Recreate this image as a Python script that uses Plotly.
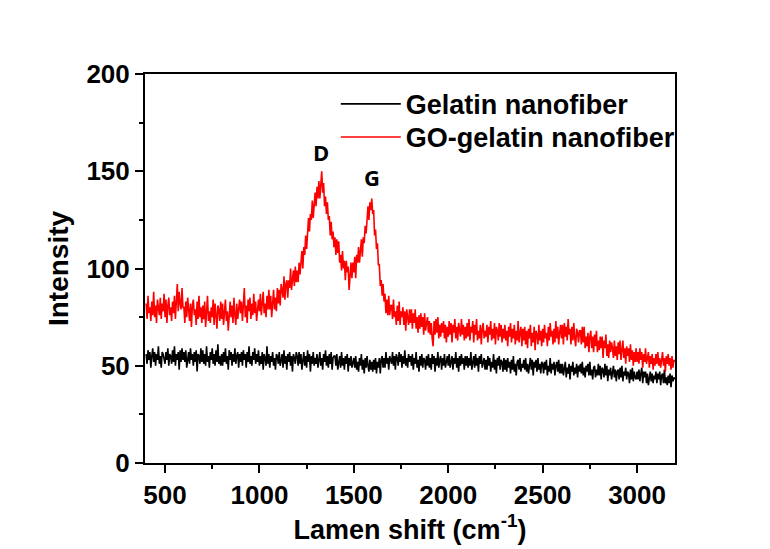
import plotly.graph_objects as go

# Raman shift grid (cm^-1), one sample every 5 cm^-1
wavenumber = list(range(400, 3201, 5))

# GO-gelatin nanofiber (red) intensities (20 per 100 cm^-1)
go_gelatin = [
    82, 74, 86, 77, 80, 73, 83, 76, 88, 75, 81, 72, 84, 79, 76, 85, 74, 82, 78, 87,
    75, 84, 72, 81, 85, 76, 80, 73, 83, 77, 86, 74, 85, 92, 78, 88, 82, 79, 90, 80,
    80, 72, 83, 75, 85, 77, 73, 82, 70, 81, 84, 76, 79, 71, 83, 74, 86, 75, 80, 72,
    81, 74, 83, 70, 79, 86, 73, 78, 72, 80, 75, 84, 71, 82, 76, 69, 81, 79, 73, 83,
    74, 82, 71, 79, 84, 73, 78, 68, 80, 83, 75, 81, 72, 85, 76, 71, 82, 74, 79, 84,
    77, 83, 73, 82, 90, 75, 81, 72, 84, 78, 85, 74, 82, 76, 87, 77, 83, 73, 80, 84,
    78, 87, 76, 83, 88, 77, 82, 75, 86, 79, 89, 79, 86, 75, 85, 89, 79, 85, 78, 90,
    82, 89, 81, 92, 89, 85, 96, 84, 92, 94, 85, 94, 90, 100, 89, 94, 99, 91, 101, 93,
    99, 93, 103, 97, 102, 109, 100, 111, 107, 117, 110, 121, 126, 119, 128, 125, 135, 126, 135, 139,
    132, 142, 136, 145, 136, 145, 150, 139, 144, 132, 137, 128, 134, 125, 127, 117, 124, 115, 119, 111,
    116, 107, 115, 108, 114, 103, 107, 99, 109, 100, 104, 94, 104, 98, 101, 89, 99, 103, 95, 103,
    98, 106, 95, 107, 103, 111, 103, 110, 115, 106, 116, 113, 122, 118, 126, 132, 125, 134, 130, 136,
    128, 130, 117, 120, 110, 113, 102, 102, 91, 94, 86, 92, 83, 87, 77, 84, 76, 86, 76, 81,
    81, 74, 84, 75, 78, 71, 81, 73, 83, 71, 78, 75, 80, 71, 78, 68, 79, 76, 71, 79,
    72, 79, 69, 77, 72, 79, 69, 75, 67, 76, 69, 77, 70, 75, 66, 77, 68, 72, 75, 67,
    73, 66, 72, 64, 60, 73, 66, 74, 67, 75, 64, 71, 65, 72, 67, 73, 64, 71, 62, 70,
    65, 73, 66, 72, 62, 71, 67, 74, 64, 70, 63, 72, 69, 65, 74, 66, 71, 63, 70, 64,
    72, 65, 74, 63, 70, 67, 73, 62, 71, 66, 74, 63, 68, 64, 71, 61, 69, 72, 64, 68,
    65, 71, 62, 70, 66, 73, 63, 69, 64, 72, 61, 70, 68, 63, 72, 65, 71, 62, 69, 64,
    71, 63, 68, 60, 70, 65, 72, 62, 69, 64, 71, 61, 68, 63, 73, 62, 67, 70, 60, 69,
    63, 70, 61, 68, 59, 69, 64, 71, 60, 67, 62, 70, 58, 68, 66, 61, 71, 63, 68, 60,
    69, 62, 71, 64, 67, 60, 70, 63, 72, 65, 68, 61, 69, 62, 73, 64, 70, 61, 67, 71,
    64, 71, 61, 72, 65, 70, 63, 74, 66, 69, 61, 70, 63, 72, 64, 60, 69, 67, 62, 68,
    68, 61, 70, 62, 70, 59, 65, 60, 67, 57, 65, 68, 59, 65, 57, 66, 60, 68, 57, 63,
    58, 65, 59, 65, 54, 63, 59, 66, 55, 61, 54, 63, 57, 62, 59, 54, 63, 55, 60, 53,
    62, 56, 63, 53, 58, 63, 54, 59, 51, 60, 55, 59, 52, 61, 53, 58, 50, 57, 52, 59,
    52, 57, 51, 59, 53, 57, 49, 56, 52, 59, 51, 54, 57, 49, 55, 51, 56, 48, 54, 50,
    56, 51, 57, 50, 54, 49, 55, 57, 50, 54, 47, 55, 51, 56, 50, 54, 48, 55, 49, 53,
    52,
]

# Gelatin nanofiber (black) intensities (20 per 100 cm^-1)
gelatin = [
    56, 51, 58, 53, 57, 49, 55, 59, 52, 57, 50, 56, 53, 60, 51, 55, 49, 57, 56, 52,
    51, 57, 53, 59, 50, 56, 55, 51, 58, 52, 60, 50, 56, 53, 57, 48, 58, 52, 59, 53,
    57, 52, 58, 49, 55, 57, 51, 59, 53, 56, 50, 57, 52, 58, 47, 56, 55, 51, 59, 52,
    58, 51, 56, 50, 60, 52, 55, 49, 57, 53, 59, 51, 56, 50, 58, 52, 61, 51, 55, 50,
    56, 50, 57, 52, 59, 51, 55, 48, 58, 53, 57, 50, 56, 52, 59, 51, 55, 57, 49, 56,
    52, 57, 50, 58, 53, 56, 49, 57, 52, 60, 51, 55, 50, 57, 53, 59, 51, 56, 52, 58,
    50, 55, 51, 57, 48, 56, 54, 50, 60, 51, 56, 49, 55, 52, 57, 50, 54, 48, 56, 55,
    51, 57, 50, 54, 56, 49, 58, 51, 55, 48, 56, 52, 57, 50, 55, 47, 56, 54, 51, 57,
    55, 50, 57, 51, 56, 48, 54, 57, 50, 55, 49, 58, 52, 56, 47, 55, 51, 57, 50, 54,
    51, 56, 49, 55, 57, 50, 54, 48, 56, 52, 58, 50, 55, 49, 56, 51, 57, 48, 54, 55,
    55, 50, 56, 48, 53, 55, 49, 57, 50, 54, 48, 55, 51, 56, 47, 54, 50, 55, 49, 53,
    54, 49, 55, 48, 52, 47, 54, 50, 56, 48, 53, 46, 54, 49, 55, 50, 47, 53, 48, 52,
    47, 53, 48, 54, 46, 52, 49, 54, 46, 53, 55, 49, 54, 49, 57, 51, 54, 48, 55, 53,
    51, 57, 50, 55, 48, 56, 54, 50, 57, 52, 56, 49, 55, 51, 58, 50, 54, 49, 56, 52,
    55, 50, 56, 48, 54, 51, 57, 49, 53, 47, 55, 50, 56, 49, 54, 53, 48, 55, 50, 56,
    49, 54, 48, 56, 51, 55, 47, 54, 50, 57, 49, 53, 55, 48, 54, 50, 56, 49, 53, 55,
    50, 56, 49, 53, 55, 48, 54, 51, 57, 49, 54, 47, 55, 50, 56, 51, 54, 48, 55, 50,
    55, 49, 54, 50, 57, 48, 53, 55, 49, 56, 50, 54, 47, 55, 51, 56, 49, 53, 54, 48,
    53, 48, 55, 50, 54, 47, 52, 49, 56, 48, 53, 46, 54, 50, 55, 48, 53, 52, 47, 54,
    48, 53, 47, 54, 49, 52, 46, 53, 48, 55, 47, 51, 45, 52, 53, 48, 54, 47, 51, 49,
    53, 48, 54, 47, 51, 46, 52, 54, 48, 53, 45, 52, 49, 53, 47, 54, 48, 51, 46, 52,
    51, 46, 52, 48, 53, 45, 50, 47, 54, 46, 51, 48, 52, 45, 50, 52, 47, 53, 46, 51,
    46, 51, 45, 50, 52, 44, 49, 46, 51, 43, 50, 47, 52, 45, 49, 46, 51, 44, 50, 47,
    51, 46, 52, 45, 49, 44, 50, 47, 51, 45, 52, 45, 48, 43, 49, 50, 44, 48, 45, 51,
    45, 50, 43, 49, 48, 44, 51, 45, 50, 42, 48, 45, 49, 43, 47, 50, 44, 48, 42, 47,
    48, 43, 49, 44, 50, 42, 47, 45, 49, 43, 47, 46, 41, 48, 43, 49, 42, 47, 44, 43,
    47, 43, 48, 42, 46, 49, 41, 47, 44, 47, 41, 46, 40, 45, 47, 42, 46, 41, 45, 43,
    47, 41, 46, 43, 47, 40, 45, 46, 41, 48, 41, 44, 40, 45, 41, 46, 39, 45, 42, 44,
    43,
]

series_names = ["Gelatin nanofiber", "GO-gelatin nanofiber"]
x_ticks = [500, 1000, 1500, 2000, 2500, 3000]
y_ticks = [0, 50, 100, 150, 200]
peak_labels = ["D", "G"]
peak_positions = [1327, 1597]
peak_label_heights = [160, 147]

FONT = "Arial, 'Liberation Sans', sans-serif"

fig = go.Figure()
fig.add_trace(go.Scatter(x=wavenumber, y=gelatin, mode="lines", name=series_names[0],
                         line=dict(color="black", width=1.6), legend="legend"))
fig.add_trace(go.Scatter(x=wavenumber, y=go_gelatin, mode="lines", name=series_names[1],
                         line=dict(color="red", width=1.6), legend="legend2"))

for lab, px, py in zip(peak_labels, peak_positions, peak_label_heights):
    fig.add_annotation(x=px, y=py, text=f"<b>{lab}</b>", showarrow=False,
                       font=dict(family="'Open Sans', Arial, sans-serif", size=22, color="black"),
                       xanchor="center", yanchor="middle")

axis_common = dict(
    showline=True, linecolor="black", linewidth=2, mirror=True,
    ticks="outside", ticklen=8, tickwidth=2, tickcolor="black",
    showgrid=False, zeroline=False, automargin=False,
    tickfont=dict(family=FONT, size=26, color="black", weight="bold"),
)

legend_common = dict(xanchor="left", yanchor="top", bgcolor="rgba(0,0,0,0)", borderwidth=0,
                     font=dict(family=FONT, size=27, color="black", weight="bold"),
                     itemwidth=60)

fig.update_layout(
    width=762, height=541,
    margin=dict(l=137, r=95, t=66, b=86),
    paper_bgcolor="white", plot_bgcolor="white",
    font=dict(family=FONT, color="black"),
    xaxis=dict(range=[394, 3201], tickmode="array", tickvals=x_ticks,
               minor=dict(ticks="outside", ticklen=4, tickwidth=2, tickcolor="black", dtick=250,
                          tick0=0),
               title=dict(text="<b>Lamen shift (cm<sup>-1</sup>)</b>",
                          font=dict(family=FONT, size=27, color="black"), standoff=4),
               **axis_common),
    yaxis=dict(range=[0, 200], tickmode="array", tickvals=y_ticks,
               minor=dict(ticks="outside", ticklen=4, tickwidth=2, tickcolor="black", dtick=25,
                          tick0=0),
               title=dict(text="<b>Intensity</b>",
                          font=dict(family=FONT, size=28, color="black"), standoff=10),
               **axis_common),
    legend=dict(x=0.36, y=0.985, **legend_common),
    legend2=dict(x=0.36, y=0.9, **legend_common),
    showlegend=True,
)

fig.write_html("out.html")
